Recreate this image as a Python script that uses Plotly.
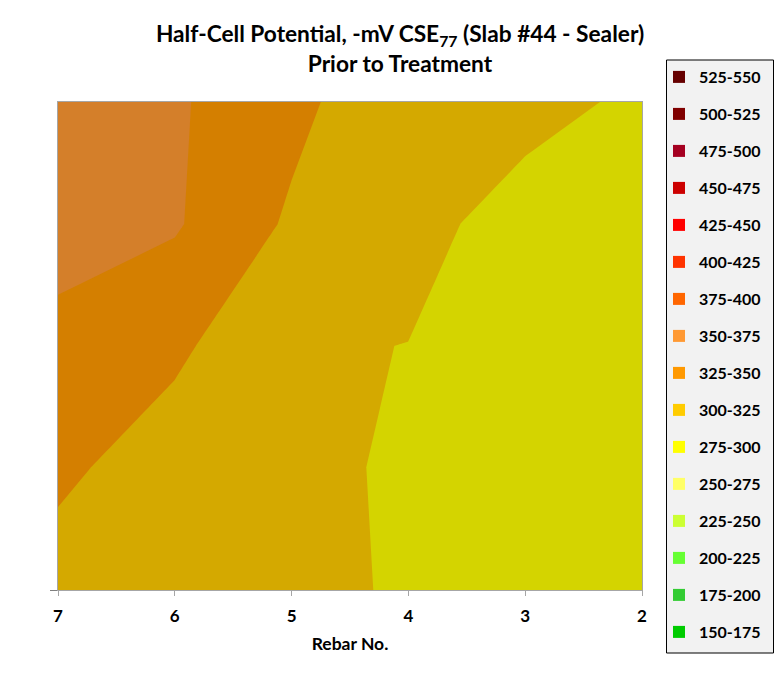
import plotly.graph_objects as go

# ---- data -------------------------------------------------------------
rebar_no = [7, 6, 5, 4, 3, 2]            # x categories (left to right)
row_index = [0, 1, 2, 3, 4]              # series rows (top to bottom)
potential_rows = [                       # -mV CSE, one list per row
    [360.0, 353.0, 331.6, 305.2, 308.0, 295.5],
    [366.6, 352.5, 321.3, 308.0, 290.0, 286.0],
    [338.0, 330.0, 302.2, 299.7, 286.0, 284.0],
    [330.0, 312.0, 308.0, 295.5, 285.0, 283.0],
    [314.4, 312.0, 310.0, 295.7, 286.0, 284.0],
]
band_labels = ["150-175", "175-200", "200-225", "225-250", "250-275",
               "275-300", "300-325", "325-350", "350-375", "375-400",
               "400-425", "425-450", "450-475", "475-500", "500-525",
               "525-550"]
band_colors = ["#00CC00", "#33CC33", "#66FF33", "#CCFF33", "#FFFF66",
               "#FFFF00", "#FFCC00", "#FF9900", "#FF9933", "#FF6600",
               "#FF3300", "#FF0000", "#CC0000", "#A50021", "#800000",
               "#660000"]
band_start, band_end, band_size = 150, 550, 25


# ---- styling helpers ---------------------------------------------------
def shade(hex_color, f=0.83):
    h = hex_color.lstrip("#")
    r, g, b = (int(h[i:i + 2], 16) for i in (0, 2, 4))
    return "rgb(%d,%d,%d)" % (round(r * f), round(g * f), round(b * f))


lo = band_start - band_size / 2
hi = band_end + band_size / 2
span = hi - lo
colorscale = []
n = len(band_colors)
for k, c in enumerate(band_colors):
    a = 0.0 if k == 0 else (band_start + band_size * k - lo) / span
    b = 1.0 if k == n - 1 else (band_start + band_size * (k + 1) - lo) / span
    colorscale += [[a, shade(c)], [b, shade(c)]]

FONT = "Lato"
W, H = 780, 673
L, R, T, B = 58, 138, 102, 83
PW, PH = W - L - R, H - T - B


def px_x(p):
    return (p - L) / PW


def px_y(p):
    return (H - B - p) / PH


fig = go.Figure()
fig.add_trace(go.Contour(
    x=rebar_no, y=row_index, z=potential_rows,
    autocontour=False,
    contours=dict(start=band_start, end=band_end, size=band_size,
                  coloring="fill"),
    colorscale=colorscale, showscale=False,
    line=dict(width=0, smoothing=0),
    hoverinfo="skip", showlegend=False,
))

for label, color in reversed(list(zip(band_labels, band_colors))):
    fig.add_trace(go.Scatter(
        x=[None], y=[None], mode="markers", name=label, legendgroup=label,
        marker=dict(symbol="square", size=11, color=color),
        showlegend=True, hoverinfo="skip",
    ))

# legend frame
fig.add_shape(type="rect", xref="paper", yref="paper",
              x0=px_x(666.5), x1=px_x(773.5), y0=px_y(60), y1=px_y(653),
              fillcolor="#F2F2F2", line=dict(color="black", width=1),
              layer="below")

fig.update_layout(
    width=W, height=H,
    margin=dict(l=L, r=R, t=T, b=B, autoexpand=False),
    paper_bgcolor="white", plot_bgcolor="white",
    font=dict(family=FONT, color="black"),
    title=dict(
        text="Half-Cell Potential, -mV CSE<sub>77</sub> (Slab #44 - Sealer)"
             "<br>Prior to Treatment",
        x=400 / W, xanchor="center", xref="container",
        y=1 - 42 / H, yanchor="top", yref="container",
        font=dict(family=FONT, size=22.7, weight="bold", color="black"),
    ),
    legend=dict(
        x=px_x(659), xanchor="left",
        y=px_y(60), yanchor="top",
        bgcolor="rgba(0,0,0,0)", borderwidth=0,
        tracegroupgap=13.2, itemsizing="constant", maxheight=660,
        font=dict(family=FONT, size=16, weight="bold", color="black"),
    ),
    xaxis=dict(
        range=[7, 2], tickvals=rebar_no, ticks="outside", ticklen=5,
        tickcolor="#A6A6A6", showline=True, linecolor="#A6A6A6",
        mirror=True, showgrid=False, zeroline=False,
        ticklabelstandoff=6,
        tickfont=dict(family=FONT, size=17, weight="bold"),
        title=dict(text="Rebar No.", standoff=12,
                   font=dict(family=FONT, size=17.5, weight="bold")),
    ),
    yaxis=dict(
        range=[4, 0], tickvals=[4], ticks="outside", ticklen=7,
        tickcolor="#808080", showticklabels=False, showline=True,
        linecolor="#A6A6A6", mirror=True, showgrid=False, zeroline=False,
    ),
)

fig.write_html("out.html",
               config={"displayModeBar": False},
               post_script="document.body.style.margin='0';")
